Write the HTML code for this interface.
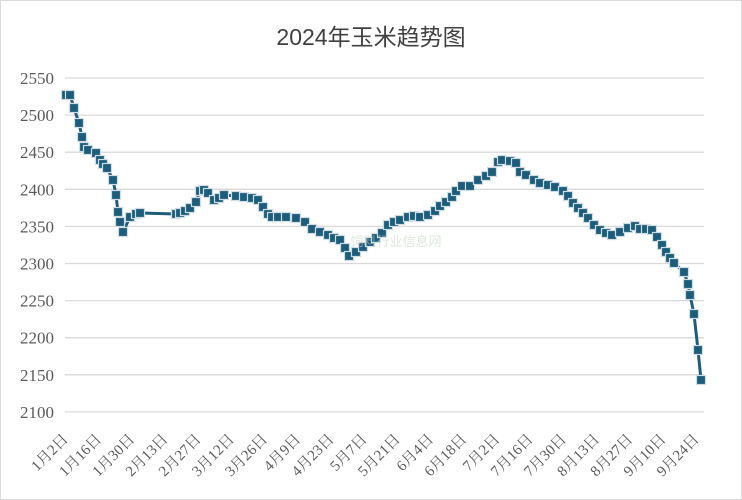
<!DOCTYPE html>
<html><head><meta charset="utf-8"><style>
body{margin:0;background:#fff}
svg{display:block}
</style></head><body>
<svg width="742" height="500" xmlns="http://www.w3.org/2000/svg">
<rect x="0.5" y="0.5" width="741" height="499" fill="#fff" stroke="#d9d9d9"/>
<text x="371" y="45" text-anchor="middle" font-family="Liberation Sans,'Noto Sans CJK SC',sans-serif" font-size="23" fill="#404040">2024年玉米趋势图</text>
<g stroke="#d9d9d9" stroke-width="1.3" id="grid"></g>
<g font-family="Liberation Serif,'Noto Serif CJK SC',serif" font-size="17" fill="#595959" text-anchor="end" id="ylab"></g>
<g font-family="Liberation Serif,'Noto Serif CJK SC',serif" font-size="15" fill="#595959" text-anchor="end" id="xlab"></g>
<polyline id="ln" fill="none" stroke="#1c5d7c" stroke-width="3" stroke-linejoin="round"/>
<g id="mk"></g>
<text x="396" y="246" text-anchor="middle" font-family="Liberation Sans,'Noto Sans CJK SC',sans-serif" font-size="13" fill="#c8d8c8" opacity="0.6">饲料行业信息网</text>
</svg>
<script>
var ns="http://www.w3.org/2000/svg";
function el(t,a,p,tx){var e=document.createElementNS(ns,t);for(var k in a)e.setAttribute(k,a[k]);if(tx)e.textContent=tx;document.getElementById(p).appendChild(e);}
for(var i=0;i<10;i++){var y=78+i*37.1;el("line",{x1:65,x2:704,y1:y,y2:y},"grid");el("text",{x:54,y:y+6},"ylab",String(2550-50*i));}
var labs=["1月2日","1月16日","1月30日","2月13日","2月27日","3月12日","3月26日","4月9日","4月23日","5月7日","5月21日","6月4日","6月18日","7月2日","7月16日","7月30日","8月13日","8月27日","9月10日","9月24日"];
for(var i=0;i<labs.length;i++){var x=69+i*33.2;el("text",{x:x,y:440,transform:"rotate(-45 "+x+" 440)"},"xlab",labs[i]);}
var p=[[66,95],[70,95],[74,108],[79,123],[82,137],[84,147],[88,150],[96,153],[100,160],[103,164],[107,168],[113,180],[116,195],[118,212],[120,222],[123,232],[130,217],[136,214],[140,213],[176,214],[180,213],[185,211],[190,208],[196,202],[200,191],[204,190],[208,193],[214,200],[219,198],[224,195],[236,196],[244,197],[252,198],[258,200],[263,207],[268,214],[272,217],[278,217],[286,217],[296,218],[305,222],[312,229],[320,232],[328,235],[334,238],[340,240],[345,248],[349,256],[356,252],[363,247],[370,242],[376,238],[382,233],[388,225],[394,222],[400,220],[408,217],[414,216],[420,217],[428,215],[435,211],[440,206],[446,202],[452,197],[456,191],[462,186],[470,186],[478,180],[486,176],[492,172],[498,162],[502,160],[510,161],[516,163],[520,172],[526,175],[534,180],[540,183],[548,185],[555,187],[563,191],[568,196],[573,203],[578,208],[583,213],[588,218],[594,225],[600,230],[606,233],[612,235],[620,232],[628,228],[635,226],[640,229],[646,229],[652,230],[657,237],[662,245],[666,252],[670,258],[674,263],[684,272],[688,284],[690,295],[694,314],[698,350],[701,380]];
document.getElementById("ln").setAttribute("points",p.map(function(a){return a.join(",")}).join(" "));
p.forEach(function(a){el("rect",{x:a[0]-4.5,y:a[1]-4.5,width:9,height:9,fill:"#1c5d7c",stroke:"#d0dde4","stroke-width":1.2},"mk");});
</script>
</body></html>
